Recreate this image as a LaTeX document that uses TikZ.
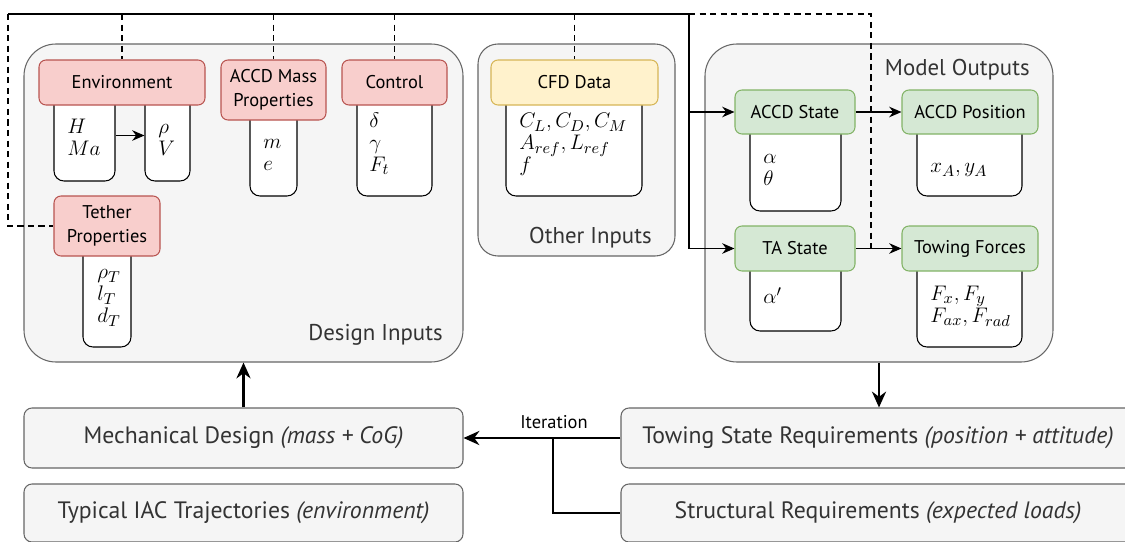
\documentclass[tikz,border=0pt]{standalone}
\usepackage{amsmath}
\usepackage{fontspec}
\setmainfont{PT Sans}
\usetikzlibrary{arrows.meta,fit}

% draw.io palette
\definecolor{boxgray}{HTML}{F5F5F5}
\definecolor{edgegray}{HTML}{666666}
\definecolor{textgray}{HTML}{333333}
\definecolor{redfill}{HTML}{F8CECC}
\definecolor{rededge}{HTML}{B85450}
\definecolor{greenfill}{HTML}{D5E8D4}
\definecolor{greenedge}{HTML}{82B366}
\definecolor{yellowfill}{HTML}{FFF2CC}
\definecolor{yellowedge}{HTML}{D6B656}

\begin{document}
\begin{tikzpicture}[
    x=0.02cm,
    y=-0.02cm,
    group/.style={draw=edgegray, fill=boxgray, line width=0.6pt, inner sep=0pt},
    header/.style={rounded corners=0.14cm, line width=0.6pt, inner sep=0pt},
    headtext/.style={align=center, font=\fontsize{10.5}{13.5}\selectfont},
    input/.style={header, draw=rededge, fill=redfill},
    cfd/.style={header, draw=yellowedge, fill=yellowfill},
    output/.style={header, draw=greenedge, fill=greenfill},
    values/.style={draw=black, fill=white, rounded corners=0.2cm, line width=0.6pt, inner sep=0pt},
    vars/.style={anchor=north west, inner sep=0pt, align=left, font=\fontsize{12.5}{12.5}\selectfont},
    grouplabel/.style={anchor=base east, inner sep=0pt, text=textgray, font=\fontsize{13}{15}\selectfont},
    task/.style={draw=edgegray, fill=boxgray, rounded corners=0.16cm, line width=0.6pt, inner sep=0pt},
    tasktext/.style={text=textgray, font=\fontsize{13.5}{16}\selectfont},
    link/.style={line width=0.6pt},
    feed/.style={line width=0.6pt, dash pattern=on 3.5pt off 2.5pt},
    smallarrow/.style={link, -{Stealth[length=7pt,width=6pt]}},
    bigarrow/.style={line width=1.5pt, -{Stealth[length=9pt,width=8pt]}}
]
    \path[use as bounding box] (0,0) rectangle (1125,541);
    \clip (0,0) rectangle (1125,541);

    % Grouping containers
    \node[group, rounded corners=0.64cm, fit={(24,44) (463,362)}] (design) {};
    \node[group, rounded corners=0.4cm, fit={(478,44) (675,256)}] (other) {};
    \node[group, rounded corners=0.64cm, fit={(705,44) (1053,362)}] (model) {};

    \node[grouplabel] (designlbl) at (443,340) {Design Inputs};
    \node[grouplabel] (otherlbl) at (652,243) {Other Inputs};
    \node[grouplabel] (modellbl) at (1030,75) {Model Outputs};

    % Value boxes (tops hidden under the headers)
    \node[values, fit={(54,90) (115,181)}] (envL) {};
    \node[values, fit={(145,90) (190,181)}] (envR) {};
    \node[values, fit={(250,100) (297,196)}] (massV) {};
    \node[values, fit={(357,90) (432,196)}] (ctrlV) {};
    \node[values, fit={(83,240) (131,347)}] (tetherV) {};
    \node[values, fit={(506,90) (642,196)}] (cfdV) {};
    \node[values, fit={(750,120) (841,211)}] (accdV) {};
    \node[values, fit={(917,120) (1022,196)}] (posV) {};
    \node[values, fit={(750,255) (841,331)}] (taV) {};
    \node[values, fit={(917,255) (1022,347)}] (forceV) {};

    % Headers
    \node[input, fit={(39,60) (205,105)}, label={[headtext]center:Environment}] (env) {};
    \node[input, fit={(221,60) (326,120)}, label={[headtext]center:ACCD Mass\\Properties}] (mass) {};
    \node[input, fit={(342,60) (447,105)}, label={[headtext]center:Control}] (ctrl) {};
    \node[input, fit={(54,196) (160,256)}, label={[headtext]center:Tether\\Properties}] (tether) {};
    \node[cfd, fit={(491,60) (658,105)}, label={[headtext]center:CFD Data}] (cfd) {};
    \node[output, fit={(735,90) (855,134)}, label={[headtext]center:ACCD State}] (accd) {};
    \node[output, fit={(902,90) (1038,134)}, label={[headtext]center:ACCD Position}] (pos) {};
    \node[output, fit={(735,226) (855,271)}, label={[headtext]center:TA State}] (ta) {};
    \node[output, fit={(902,226) (1038,271)}, label={[headtext]center:Towing Forces}] (force) {};

    % Variables
    \node[vars] (envLtxt) at (67,118) {\strut$H$\\$Ma$};
    \node[vars] (envRtxt) at (158,118) {\strut$\rho$\\$V$};
    \node[vars] (masstxt) at (263,133) {\strut$m$\\$e$};
    \node[vars] (ctrltxt) at (369,112) {\strut$\delta$\\$\gamma$\\$F_t$};
    \node[vars] (tethertxt) at (97,263) {\strut$\rho_T$\\$l_T$\\$d_T$};
    \node[vars] (cfdtxt) at (519,112) {\strut$C_L, C_D, C_M$\\$A_{ref}, L_{ref}$\\$f$};
    \node[vars] (accdtxt) at (763,148) {\strut$\alpha$\\$\theta$};
    \node[vars] (postxt) at (930,157) {\strut$x_A, y_A$};
    \node[vars] (tatxt) at (763,287) {\strut$\alpha'$};
    \node[vars] (forcetxt) at (930,285) {\strut$F_x, F_y$\\$F_{ax}, F_{rad}$};

    % Feedback lines along the top
    \coordinate (corner) at (8,14);
    \coordinate (bus) at (689,14);
    \coordinate (split) at (871,14);
    \draw[link] (corner) -- (bus);
    \draw[smallarrow] (bus) |- (ta.west);
    \draw[smallarrow] (bus |- accd.west) -- (accd.west);
    \draw[feed] (bus) -- (split) -- (split |- ta.east);
    \draw[feed] (corner) |- (tether.west);
    \foreach \n in {env, mass, ctrl, cfd}
        \draw[feed] (\n.north |- corner) -- (\n.north);

    \draw[smallarrow] (envL.east) -- (envR.west);
    \draw[smallarrow] (accd.east) -- (pos.west);
    \draw[smallarrow] (ta.east) -- (force.west);

    % Design loop
    \node[task, fit={(24,408) (463,468)}, label={[tasktext]center:Mechanical Design \textit{(mass + CoG)}}] (mech) {};
    \node[task, fit={(24,484) (463,542)}, label={[tasktext]center:Typical IAC Trajectories \textit{(environment)}}] (traj) {};
    \node[task, fit={(621,408) (1135,468)}, label={[tasktext]center:Towing State Requirements \textit{(position + attitude)}}] (towreq) {};
    \node[task, fit={(621,484) (1135,542)}, label={[tasktext]center:Structural Requirements \textit{(expected loads)}}] (strreq) {};

    \coordinate (iter) at (553,438);
    \draw[bigarrow] (mech.north) -- (design.south);
    \draw[bigarrow] (model.south) -- (model.south |- towreq.north);
    \draw[bigarrow] (towreq.west) -- (mech.east);
    \draw[line width=1.5pt] (iter) |- (strreq.west);
    \node[text=black, font=\fontsize{10.5}{12}\selectfont] (iterlbl) at (554,422) {Iteration};
\end{tikzpicture}
\end{document}
